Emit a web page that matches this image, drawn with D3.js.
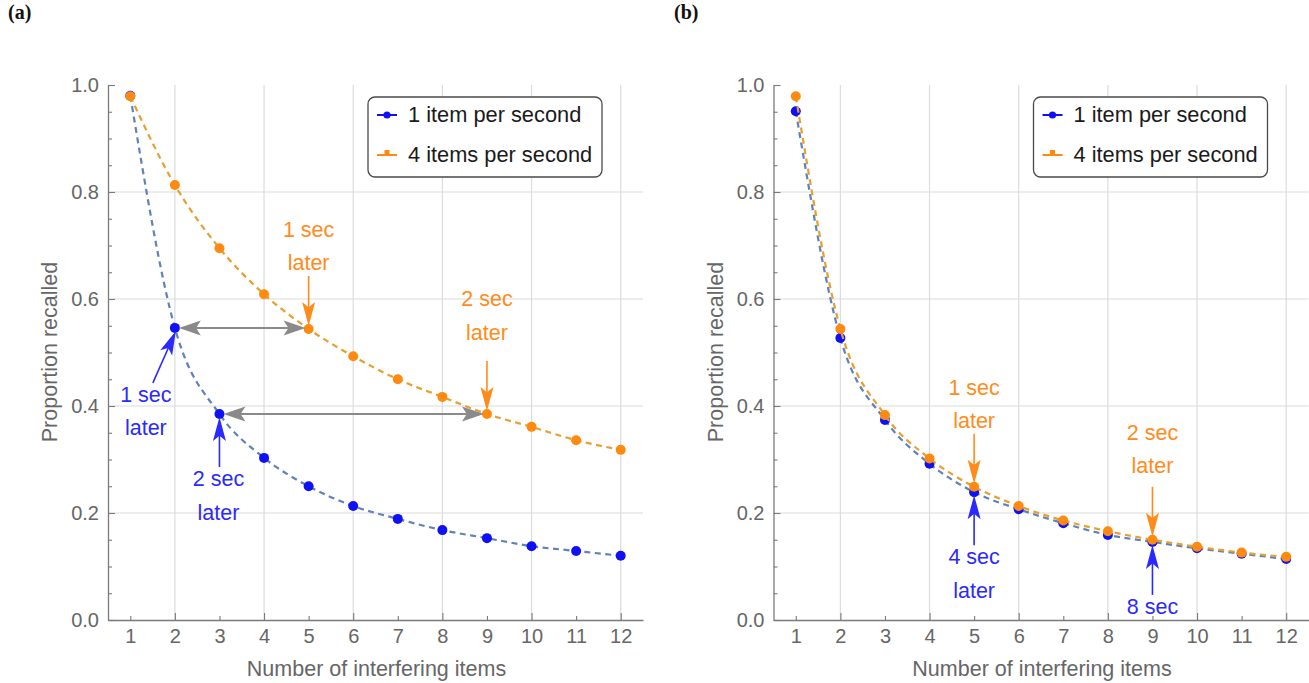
<!DOCTYPE html>
<html><head><meta charset="utf-8">
<script src="https://cdn.jsdelivr.net/npm/d3@7"></script>
<style>body{margin:0;background:#fff}svg{display:block}</style>
</head><body><svg id="c" width="1309" height="683"></svg>
<script>
// ---------- data ----------
const xValues = [1,2,3,4,5,6,7,8,9,10,11,12];
const xTickValues = [1,2,3,4,5,6,7,8,9,10,11,12];
const xGridValues = [2,4,6,8,10,12];
const yTickValues = [0,0.2,0.4,0.6,0.8,1.0];
const yMinorTickValues = [0.05,0.1,0.15,0.25,0.3,0.35,0.45,0.5,0.55,0.65,0.7,0.75,0.85,0.9,0.95];
const yGridValues = [0.2,0.4,0.6,0.8];
const seriesNames = ["1 item per second","4 items per second"];
const panelLabels = ["(a)","(b)"];
const xTitle = "Number of interfering items";
const yTitle = "Proportion recalled";

const panelA_slow = [0.980,0.546,0.385,0.303,0.250,0.213,0.189,0.168,0.153,0.138,0.129,0.120];
const panelA_fast = [0.979,0.813,0.695,0.609,0.544,0.493,0.450,0.417,0.385,0.361,0.336,0.318];
const panelB_slow = [0.951,0.527,0.374,0.292,0.239,0.207,0.181,0.159,0.146,0.134,0.124,0.114];
const panelB_fast = [0.979,0.544,0.383,0.302,0.249,0.213,0.186,0.166,0.150,0.137,0.126,0.118];

// annotations: [series, x, text lines, direction]
const panelA_notes = [
  {series:"fast", x:5, lines:["1 sec","later"], dir:"down"},
  {series:"fast", x:9, lines:["2 sec","later"], dir:"down"},
  {series:"slow", x:2, lines:["1 sec","later"], dir:"upleft"},
  {series:"slow", x:3, lines:["2 sec","later"], dir:"up"}
];
const panelA_spans = [ {from:2, to:5, y:"slow"}, {from:3, to:9, y:"slow"} ];
const panelB_notes = [
  {series:"fast", x:5, lines:["1 sec","later"], dir:"down"},
  {series:"slow", x:5, lines:["4 sec","later"], dir:"up"},
  {series:"fast", x:9, lines:["2 sec","later"], dir:"down"},
  {series:"slow", x:9, lines:["8 sec"], dir:"up"}
];

// ---------- styles ----------
const C = {
  slowPt:"#1010f5", fastPt:"#ff8a12",
  slowLine:"#5f82b8", fastLine:"#e6a030",
  slowTxt:"#2a2aff", fastTxt:"#ff8c1a",
  gray:"#8a8a8a", axis:"#7a7a7a", grid:"#dcdcdc", tick:"#666"
};
const FONT = "'Liberation Sans', Arial, sans-serif";

const svg = d3.select("#c");
const y = d3.scaleLinear().domain([0,1]).range([620,85]);

function arrowHead(g, x2, y2, ang, color, len, hw) {
  const pts = [[0,0],[-len,-hw],[-len*0.78,0],[-len,hw]].map(([a,b]) => [
    x2 + a*Math.cos(ang) - b*Math.sin(ang),
    y2 + a*Math.sin(ang) + b*Math.cos(ang)]);
  g.append("path").attr("d","M"+pts.map(p=>p.join(",")).join("L")+"Z").attr("fill",color);
}
function arrow(g, x1,y1,x2,y2,color,len=22,hw=7,sw=1.6){
  const ang = Math.atan2(y2-y1,x2-x1);
  g.append("line").attr("x1",x1).attr("y1",y1)
    .attr("x2",x2-Math.cos(ang)*len*0.7).attr("y2",y2-Math.sin(ang)*len*0.7)
    .attr("stroke",color).attr("stroke-width",sw);
  arrowHead(g,x2,y2,ang,color,len,hw);
}
function dblArrow(g,x1,y1,x2,y2,color){
  const ang = Math.atan2(y2-y1,x2-x1), len=22;
  g.append("line").attr("x1",x1+Math.cos(ang)*len*0.7).attr("y1",y1)
    .attr("x2",x2-Math.cos(ang)*len*0.7).attr("y2",y2)
    .attr("stroke",color).attr("stroke-width",2);
  arrowHead(g,x2,y2,ang,color,len,7.5);
  arrowHead(g,x1,y1,ang+Math.PI,color,len,7.5);
}

function drawPanel(idx, range, slow, fast, notes, spans, layout){
  const x = d3.scaleLinear().domain([0.5,12.5]).range(range);
  const g = svg.append("g");
  // panel label
  svg.append("text").attr("x", idx===0 ? 8 : 674).attr("y",19)
    .attr("font-family","'Liberation Serif', 'Times New Roman', serif")
    .attr("font-weight","bold").attr("font-size",20).attr("fill","#111").text(panelLabels[idx]);
  // grid
  g.selectAll(".vg").data(xGridValues).join("line")
    .attr("x1",d=>x(d)).attr("x2",d=>x(d)).attr("y1",y(1)).attr("y2",y(0))
    .attr("stroke",C.grid).attr("stroke-width",1.2);
  g.selectAll(".hg").data(yGridValues).join("line")
    .attr("x1",range[0]).attr("x2",range[1]).attr("y1",d=>y(d)).attr("y2",d=>y(d))
    .attr("stroke",C.grid).attr("stroke-width",1.2);
  // axes
  const ya = g.append("g").attr("transform",`translate(${range[0]},0)`)
    .call(d3.axisLeft(y).tickValues(yTickValues).tickSize(-7).tickSizeOuter(0).tickPadding(9).tickFormat(d3.format(".1f")));
  const yam = g.append("g").attr("transform",`translate(${range[0]},0)`)
    .call(d3.axisLeft(y).tickValues(yMinorTickValues).tickSize(-4).tickSizeOuter(0).tickFormat(""));
  yam.select(".domain").remove();
  const xa = g.append("g").attr("transform",`translate(0,${y(0)})`)
    .call(d3.axisBottom(x).tickValues(xTickValues).tickSize(-4).tickSizeOuter(0).tickPadding(9));
  xa.selectAll(".tick line").attr("y2", d => d%2===0 ? -7 : -4);
  [ya,yam,xa].forEach(a=>{
    a.selectAll(".domain").attr("stroke",C.axis).attr("stroke-width",1.3);
    a.selectAll(".tick line").attr("stroke",C.axis).attr("stroke-width",1.1);
    a.selectAll("text").attr("font-family",FONT).attr("font-size",20).attr("fill",C.tick);
  });
  // titles
  g.append("text").attr("x",(range[0]+range[1])/2 + 1).attr("y",676).attr("text-anchor","middle")
    .attr("font-family",FONT).attr("font-size",21.5).attr("fill",C.tick).text(xTitle);
  g.append("text").attr("transform",`translate(${range[0]-51},352) rotate(-90)`).attr("text-anchor","middle")
    .attr("font-family",FONT).attr("font-size",21.5).attr("fill",C.tick).text(yTitle);

  // series
  const line = d3.line().x((d,i)=>x(xValues[i])).y(d=>y(d)).curve(d3.curveMonotoneX);
  const series = [
    {vals:slow, line:C.slowLine, pt:C.slowPt},
    {vals:fast, line:C.fastLine, pt:C.fastPt}
  ];
  series.forEach(s=>{
    g.append("path").attr("d",line(s.vals)).attr("fill","none").attr("stroke",s.line)
      .attr("stroke-width",2.2).attr("stroke-dasharray","6,4.5");
    g.selectAll(null).data(s.vals).join("circle")
      .attr("cx",(d,i)=>x(xValues[i])).attr("cy",d=>y(d)).attr("r",5).attr("fill",s.pt);
  });

  // spans (double arrows)
  spans.forEach(sp=>{
    const yy = y(slow[xValues.indexOf(sp.from)]);
    dblArrow(g, x(sp.from)+4, yy, x(sp.to)-3, yy, C.gray);
  });

  // notes
  notes.forEach((n,k)=>{
    const vals = n.series==="slow" ? slow : fast;
    const col = n.series==="slow" ? C.slowTxt : C.fastTxt;
    const px = x(n.x), py = y(vals[xValues.indexOf(n.x)]);
    const L = layout[k];
    if (n.dir==="down") {
      arrow(g, px, py-53, px, py-3, col, 24, 6.5, 1.6);
    } else if (n.dir==="up") {
      arrow(g, px, py+53, px, py+3, col, 24, 6.5, 1.6);
    } else {
      arrow(g, px-22, py+55, px+1, py+3, col, 24, 6.5, 1.6);
    }
    n.lines.forEach((t,j)=>{
      g.append("text").attr("x",px+L.dx).attr("y",py+L.dy+j*33.5).attr("text-anchor","middle")
        .attr("font-family",FONT).attr("font-size",21.5).attr("fill",col).text(t);
    });
  });

  // legend
  const lx = range[0]+260, ly = 97;
  const lg = g.append("g");
  lg.append("rect").attr("x",lx).attr("y",ly).attr("width",234).attr("height",80).attr("rx",7)
    .attr("fill","#fff").attr("stroke","#4a4a4a").attr("stroke-width",1.3);
  seriesNames.forEach((name,i)=>{
    const cy = ly+18+i*40;
    const col = i===0 ? C.slowPt : C.fastPt;
    lg.append("line").attr("x1",lx+9).attr("x2",lx+29).attr("y1",cy).attr("y2",cy)
      .attr("stroke",col).attr("stroke-width",2);
    if (i===0) lg.append("circle").attr("cx",lx+19).attr("cy",cy).attr("r",3.6).attr("fill",col);
    else lg.append("rect").attr("x",lx+16.5).attr("y",cy-5).attr("width",5).attr("height",5).attr("fill",col);
    lg.append("text").attr("x",lx+40).attr("y",cy+7).attr("font-family",FONT).attr("font-size",21.8)
      .attr("fill","#1a1a1a").text(name);
  });
}

drawPanel(0,[108,643],panelA_slow,panelA_fast,panelA_notes,panelA_spans,
  [{dx:0,dy:-92},{dx:0,dy:-108},{dx:-29,dy:74},{dx:-1,dy:72}]);
drawPanel(1,[773.5,1308.5],panelB_slow,panelB_fast,panelB_notes,[],
  [{dx:0,dy:-92},{dx:0,dy:72},{dx:0,dy:-100},{dx:0,dy:72}]);
</script></body></html>
